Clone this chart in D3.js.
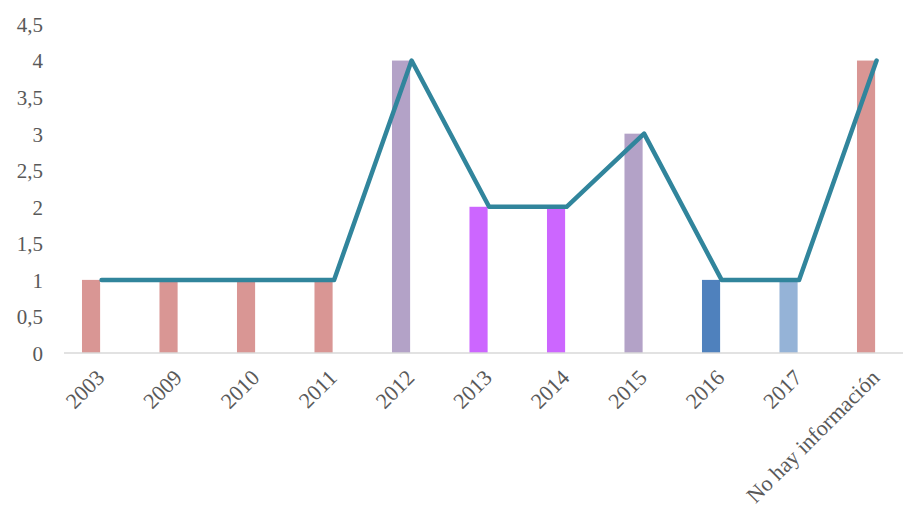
<!DOCTYPE html>
<html>
<head>
<meta charset="utf-8">
<script src="https://cdn.jsdelivr.net/npm/d3@7"></script>
<style>
  html, body { margin: 0; padding: 0; background: #fff; }
  svg { display: block; }
  text { font-family: "Liberation Serif", "Times New Roman", serif; fill: #595959; }
</style>
</head>
<body>
<svg id="chart" width="903" height="515"></svg>
<script>
// Categories (years plus unknown), counts and per-bar colours
const categories = ["2003", "2009", "2010", "2011", "2012", "2013", "2014", "2015", "2016", "2017", "No hay información"];
const counts = [1, 1, 1, 1, 4, 2, 2, 3, 1, 1, 4];
const barColors = ["#d99694", "#d99694", "#d99694", "#d99694", "#b3a2c7", "#cc66ff", "#cc66ff", "#b3a2c7", "#4f81bd", "#95b3d7", "#d99694"];
const yTicks = [0, 0.5, 1, 1.5, 2, 2.5, 3, 3.5, 4, 4.5];

const svg = d3.select("#chart");
const plotLeft = 64, plotRight = 916.5, plotTop = 24, plotBottom = 353;

const x = d3.scaleBand().domain(categories).range([plotLeft, plotRight]).padding(0);
const y = d3.scaleLinear().domain([0, 4.5]).range([plotBottom, plotTop]);
const step = x.bandwidth();

const fmt = d => d3.format("")(d).replace(".", ",");

// Y axis labels only (no axis line, no gridlines)
const yAxis = d3.axisLeft(y).tickValues(yTicks).tickFormat(fmt).tickSize(0).tickPadding(0);
svg.append("g")
  .attr("transform", `translate(43,0)`)
  .call(yAxis)
  .call(g => g.select(".domain").remove())
  .call(g => g.selectAll("text")
    .attr("dy", "0.35em")
    .style("font-size", "21px")
    .style("font-family", "'Liberation Serif', serif")
    .attr("fill", "#595959"));

// Bars sit in the left half of each category slot
svg.append("g").selectAll("rect")
  .data(categories)
  .join("rect")
  .attr("x", d => x(d) + step * 0.232)
  .attr("width", step * 0.234)
  .attr("y", (d, i) => y(counts[i]))
  .attr("height", (d, i) => y(0) - y(counts[i]))
  .attr("fill", (d, i) => barColors[i]);

// Baseline
svg.append("line")
  .attr("x1", plotLeft).attr("x2", plotRight)
  .attr("y1", y(0)).attr("y2", y(0))
  .attr("stroke", "#d9d9d9").attr("stroke-width", 1.5);

// X axis labels rotated
const xAxis = d3.axisBottom(x).tickSize(0).tickPadding(0);
svg.append("g")
  .attr("transform", `translate(0,${y(0)})`)
  .call(xAxis)
  .call(g => g.select(".domain").remove())
  .call(g => g.selectAll(".tick text")
    .attr("text-anchor", "end")
    .attr("x", 0).attr("y", 0).attr("dy", 0)
    .attr("transform", "translate(3,26) rotate(-45)")
    .style("font-size", "22px")
    .style("font-family", "'Liberation Serif', serif")
    .attr("fill", "#595959"));

// Line through the category centres
const line = d3.line()
  .x((d, i) => x(categories[i]) + step * 0.485)
  .y(d => y(d));
svg.append("path")
  .datum(counts)
  .attr("d", line)
  .attr("fill", "none")
  .attr("stroke", "#31859c")
  .attr("stroke-width", 4.5)
  .attr("stroke-linejoin", "round")
  .attr("stroke-linecap", "round");
</script>
</body>
</html>
